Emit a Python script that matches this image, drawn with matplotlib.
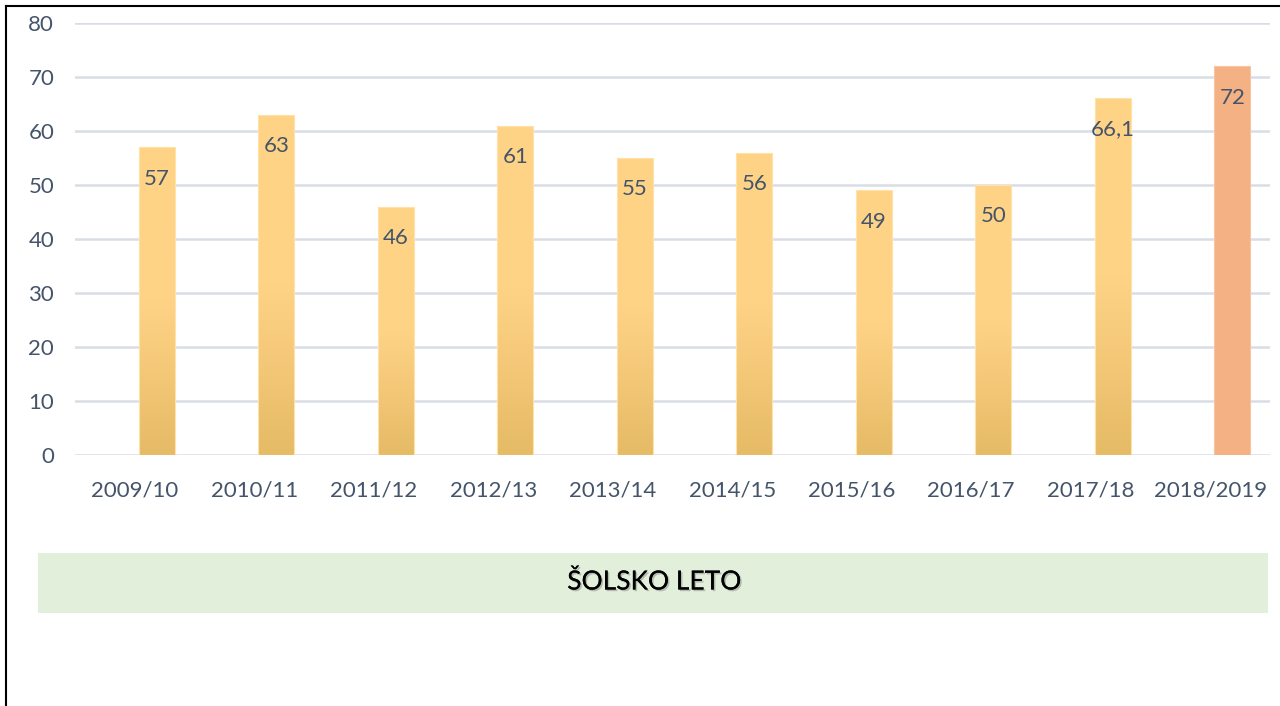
import numpy as np
import matplotlib
matplotlib.use('Agg')
from matplotlib import pyplot as plt
from matplotlib.colors import LinearSegmentedColormap
from matplotlib.lines import Line2D
from matplotlib.patches import Rectangle
import matplotlib.patheffects as pe

# data
years = ['2009/10', '2010/11', '2011/12', '2012/13', '2013/14',
         '2014/15', '2015/16', '2016/17', '2017/18', '2018/2019']
values = [57, 63, 46, 61, 55, 56, 49, 50, 66.1, 72]
labels = ['57', '63', '46', '61', '55', '56', '49', '50', '66,1', '72']

txt_col = '#44546A'
grid_col = '#D9DEE6'
plt.rcParams['font.family'] = ['Lato', 'DejaVu Sans']

W, H = 1280, 706
fig = plt.figure(figsize=(W / 100, H / 100), dpi=100)
ax = fig.add_axes([75 / W, 1 - 455 / H, (1270 - 75) / W, (455 - 23) / H])

x = np.arange(len(years))
bw = 0.30
off = 0.185  # bars sit right of the category centre (empty second series)
bars = ax.bar(x + off, values, width=bw, color='none', edgecolor='none', zorder=3)

grad = LinearSegmentedColormap.from_list('g', [(0, '#E6BB66'), (0.5, '#FFD386'), (1, '#FFD386')])
for i, (b, v) in enumerate(zip(bars, values)):
    xc = i + off
    if i == len(values) - 1:
        b.set_facecolor('#F4B183')
        b.set_edgecolor('#F7C6A0')
        b.set_linewidth(0.8)
    else:
        img = ax.imshow(np.linspace(0, 1, 200).reshape(-1, 1), cmap=grad, origin='lower',
                        extent=(xc - bw / 2, xc + bw / 2, 0, v), aspect='auto', zorder=3)
        img.set_clip_path(b)
        b.set_edgecolor('#FFE2A8')
        b.set_linewidth(0.8)
        b.set_zorder(4)
    ax.text(xc, v - 5.8, labels[i], ha='center', va='center', fontsize=16, color=txt_col, zorder=5)

ax.set_xlim(-0.5, len(years) - 0.5)
ax.set_ylim(0, 80)
ax.set_yticks(range(0, 81, 10))
ax.set_xticks(x)
ax.set_xticklabels(years)
ax.tick_params(axis='both', length=0, labelsize=16, colors=txt_col)
ax.tick_params(axis='x', pad=18.5)
ax.tick_params(axis='y', pad=15)
ax.grid(axis='y', color=grid_col, linewidth=1.8, zorder=0)
ax.set_axisbelow(True)
for s in ax.spines.values():
    s.set_visible(False)

# green box with axis title
fig.patches.append(Rectangle((38 / W, 1 - 613 / H), (1268 - 38) / W, 60 / H,
                             transform=fig.transFigure, facecolor='#E2EFDA', edgecolor='none'))
fig.text(654 / W, 1 - 582 / H, 'ŠOLSKO LETO', ha='center', va='center', fontsize=19, color='black',
         path_effects=[pe.withSimplePatchShadow(offset=(1.2, -1.2), shadow_rgbFace='#888888', alpha=0.5),
                       pe.Normal()])

# border on left and top
fig.add_artist(Line2D([5.5 / W, 5.5 / W], [0, 1 - 5.5 / H], transform=fig.transFigure, color='black', linewidth=1.5))
fig.add_artist(Line2D([5.5 / W, 1], [1 - 5.5 / H, 1 - 5.5 / H], transform=fig.transFigure, color='black', linewidth=1.5))

fig.savefig('out.png', dpi=100)
